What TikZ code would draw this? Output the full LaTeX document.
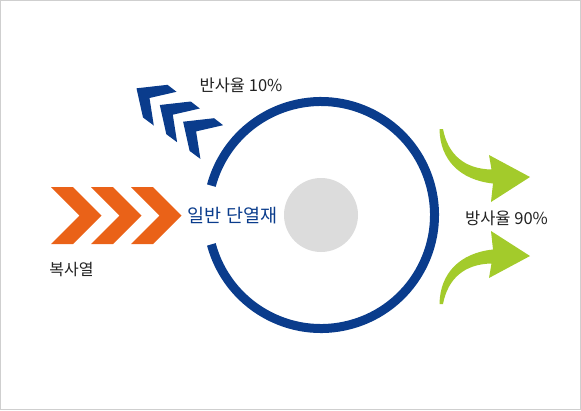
\documentclass[tikz,border=0pt]{standalone}
\usepackage{fontspec}
\newfontfamily\kr{Noto Sans CJK KR}
\definecolor{ringblue}{HTML}{0A3C8C}
\definecolor{chevorange}{HTML}{EA6218}
\definecolor{arrgreen}{HTML}{A3CB2B}
\definecolor{discgray}{HTML}{DCDCDC}
\definecolor{framegray}{HTML}{CFCFCF}
\definecolor{txtdark}{HTML}{222222}
\tikzset{
  lbl/.style={inner sep=0pt, text=txtdark, font=\kr\fontsize{16.5}{16.5}\selectfont},
  chevO/.style={fill=chevorange, draw=none},
  chevB/.style={fill=ringblue, draw=none},
  greenarr/.style={fill=arrgreen, draw=none},
}
\begin{document}
\begin{tikzpicture}[x=1pt,y=-1pt]
\useasboundingbox (0,0) rectangle (581,410);
\draw[framegray, line width=1pt] (0.5,0.5) rectangle (580.5,409.5);

% ring and disc
\coordinate (c) at (321,215);
\draw[ringblue, line width=9pt] (c) ++(-165:113.5pt) arc[start angle=-165, end angle=165, radius=113.5pt];
\node[circle, fill=discgray, minimum size=74pt, inner sep=0pt] (disc) at (c) {};

% orange chevrons
\foreach \k in {0,1,2}{
  \fill[chevO, shift={(40*\k,0)}] (51,187) -- (73,187) -- (101.5,215.5) -- (73,244) -- (51,244) -- (79.5,215.5) -- cycle;
}

% blue chevrons (reflected)
\foreach \k in {0,1,2}{
  \fill[chevB, shift={(23.3*\k,16.7*\k)}] (136.5,88.3) -- (167.5,84.8) -- (176.5,91.8) -- (149.5,98) -- (153.8,125.5) -- (143,117.5) -- cycle;
}

% green arrows
\fill[greenarr] (443,129) .. controls (448,155) and (465,169) .. (491.5,169.5)
  -- (489,155) -- (530,177) -- (491,202) -- (493,183.5)
  .. controls (460,180) and (440,160) .. (439.5,129) -- cycle;
\fill[greenarr] (443,304) .. controls (448,278) and (465,264) .. (491.5,263.5)
  -- (489,278) -- (530,256) -- (491,231) -- (493,249.5)
  .. controls (460,253) and (440,273) .. (439.5,304) -- cycle;

% labels
\node[lbl] (refl) at (241,85) {반사율 10\%};
\node[lbl, text=ringblue, font=\kr\fontsize{18.5}{18.5}\selectfont] (mat) at (232.5,216) {일반 단열재};
\node[lbl, font=\kr\fontsize{16}{16}\selectfont] (rad) at (71.5,270) {복사열};
\node[lbl] (emis) at (506.5,218) {방사율 90\%};
\end{tikzpicture}
\end{document}
